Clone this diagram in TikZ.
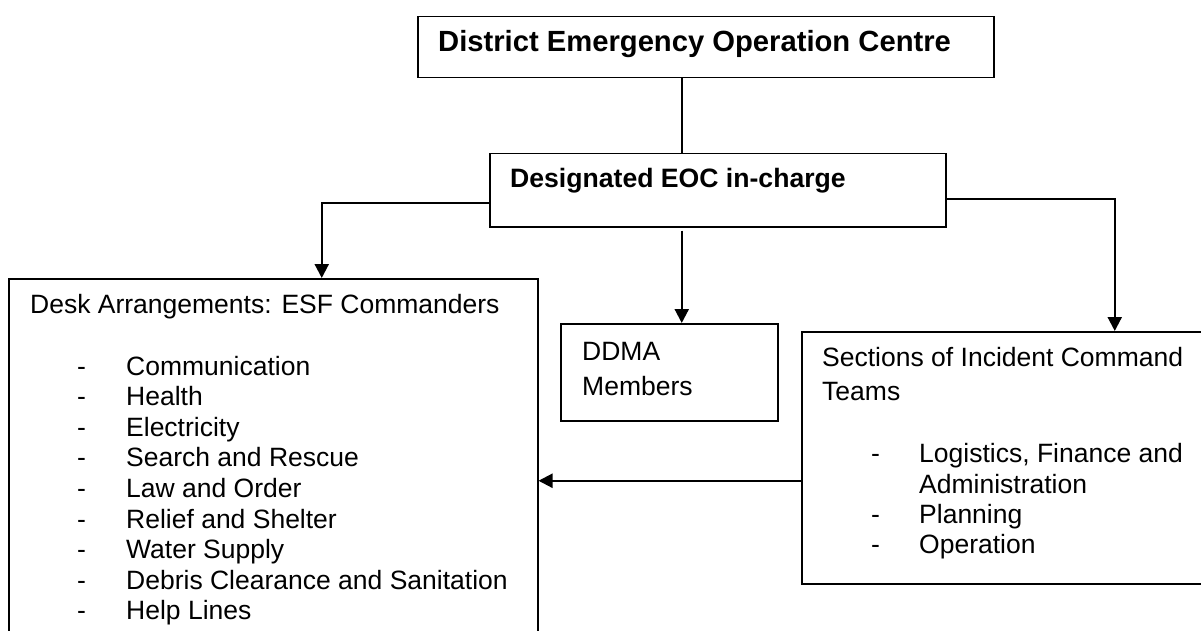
\documentclass[tikz,border=0pt]{standalone}
\usepackage{fontspec}
\setmainfont{Liberation Sans}
\usetikzlibrary{arrows.meta}
\begin{document}
\begin{tikzpicture}[x=1pt,y=-1pt,
  box/.style={draw, line width=1.5pt, rectangle, inner sep=0pt, anchor=north west},
  txt/.style={anchor=base west, inner sep=0pt, font=\fontsize{26.5}{30.6}\selectfont},
  btxt/.style={txt, font=\fontsize{26.6}{30.6}\selectfont\bfseries},
  link/.style={line width=1.5pt},
  arr/.style={line width=2.2pt, -{Triangle[length=14pt,width=14pt]}}]
\useasboundingbox (0,0) rectangle (1201,631);
\clip (0,0) rectangle (1201,631);

% boxes
\node[box, minimum width=576pt, minimum height=61pt] (top) at (417,16) {};
\node[box, minimum width=456pt, minimum height=73pt] (eoc) at (489,153) {};
\node[box, minimum width=529pt, minimum height=420pt] (desk) at (8,278) {};
\node[box, minimum width=217pt, minimum height=97pt] (ddma) at (560,323) {};
\node[box, minimum width=429pt, minimum height=252pt] (ics) at (801,331) {};

% box texts
\node[btxt, font=\fontsize{29.2}{33}\selectfont\bfseries] (toptxt) at (438,52) {District Emergency Operation Centre};
\node[btxt] (eoctxt) at (510,188) {Designated EOC in-charge};

\node[txt] (desktxt) at (30,313) {Desk Arrangements: ESF Commanders};
\foreach \item [count=\i from 0] in {Communication, Health, Electricity,
    Search and Rescue, Law and Order, Relief and Shelter, Water Supply,
    Debris Clearance and Sanitation, Help Lines} {
  \node[txt] (dd\i) at (77,375+30.6*\i) {-};
  \node[txt] (di\i) at (126,375+30.6*\i) {\item};
}

\node[txt] (ddma1) at (582,360) {DDMA};
\node[txt] (ddma2) at (582,395) {Members};

\node[txt] (ics1) at (822,366) {Sections of Incident Command};
\node[txt] (ics2) at (822,400) {Teams};
\node[txt] (icsd1) at (871,462) {-};
\node[txt] (icsi1) at (919,462) {Logistics, Finance and};
\node[txt] (icsi1b) at (919,493) {Administration};
\node[txt] (icsd2) at (871,523) {-};
\node[txt] (icsi2) at (919,523) {Planning};
\node[txt] (icsd3) at (871,553) {-};
\node[txt] (icsi3) at (919,553) {Operation};

% connectors
\draw[link] ([xshift=-24pt]top.south) -- ([xshift=-24pt]top.south |- eoc.north);
\draw[arr] ([yshift=-12.5pt]eoc.west) -| ([xshift=48.5pt]desk.north);
\draw[arr] ([xshift=-36pt,yshift=-3pt]eoc.south) -- ([xshift=-36pt]eoc.south |- ddma.north);
\draw[arr] ([yshift=-8.5pt]eoc.east) -| ([xshift=98.5pt]ics.north);
\draw[arr] ([yshift=-23pt]ics.west) coordinate (p) -- (desk.east |- p);
\end{tikzpicture}
\end{document}
